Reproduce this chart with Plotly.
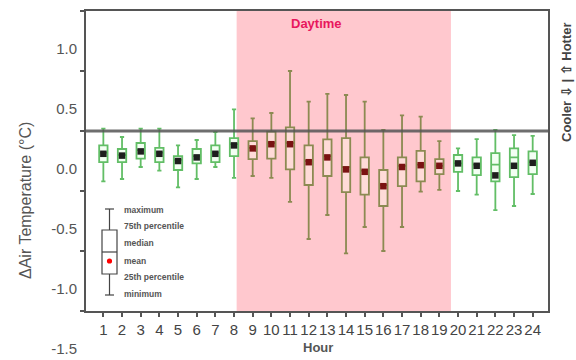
import plotly.graph_objects as go

hours = list(range(1, 25))
upper = [0.02, -0.05, 0.02, 0.02, -0.12, -0.075, -0.01, 0.18, 0.105, 0.15, 0.50, 0.245,
         0.31, 0.30, 0.245, 0.01, 0.13, 0.12, -0.085, -0.145, -0.067, 0.01, -0.035, -0.04]
q3 = [-0.12, -0.15, -0.10, -0.14, -0.21, -0.15, -0.12, -0.06, -0.085, -0.005, 0.03, -0.12,
      -0.07, -0.06, -0.22, -0.325, -0.22, -0.165, -0.235, -0.20, -0.22, -0.185, -0.145, -0.17]
median = [-0.18, -0.20, -0.16, -0.18, -0.24, -0.21, -0.18, -0.11, -0.14, -0.10, -0.10, -0.25,
          -0.21, -0.30, -0.33, -0.45, -0.29, -0.28, -0.29, -0.27, -0.28, -0.28, -0.22, -0.26]
mean = [-0.19, -0.205, -0.17, -0.19, -0.25, -0.22, -0.19, -0.12, -0.145, -0.11, -0.11, -0.26,
        -0.22, -0.32, -0.34, -0.46, -0.30, -0.285, -0.29, -0.27, -0.29, -0.37, -0.29, -0.265]
q1 = [-0.26, -0.26, -0.23, -0.26, -0.325, -0.27, -0.26, -0.21, -0.235, -0.23, -0.32, -0.45,
      -0.375, -0.51, -0.53, -0.625, -0.46, -0.42, -0.36, -0.34, -0.367, -0.42, -0.385, -0.36]
lower = [-0.42, -0.40, -0.30, -0.33, -0.47, -0.40, -0.30, -0.39, -0.375, -0.39, -0.59, -0.90,
         -0.70, -1.02, -0.80, -1.00, -0.80, -0.505, -0.49, -0.50, -0.53, -0.66, -0.625, -0.525]
day_hours = list(range(9, 20))
daytime_span = [8.14, 19.62]
y_ticks = [1.0, 0.5, 0.0, -0.5, -1.0, -1.5]
legend_labels = ["maximum", "75th percentile", "median", "mean", "25th percentile", "minimum"]

FONT = "Liberation Sans, Arial, sans-serif"
GRAY = "#555555"

def pick(arr, idx):
    return [arr[i] for i in idx]

night_idx = [i for i, h in enumerate(hours) if h not in day_hours]
day_idx = [i for i, h in enumerate(hours) if h in day_hours]

fig = go.Figure()

groups = [
    (night_idx, "rgb(98,190,102)", "rgba(240,255,240,0.8)", "#1e1e1e"),
    (day_idx, "rgb(140,138,82)", "rgba(255,255,235,0.35)", "#7a1212"),
]
for idx, lc, fc, mc in groups:
    fig.add_trace(go.Box(
        x=pick(hours, idx), q1=pick(q1, idx), median=pick(median, idx), q3=pick(q3, idx),
        lowerfence=pick(lower, idx), upperfence=pick(upper, idx),
        boxpoints=False, width=0.45, whiskerwidth=0.5,
        line=dict(color=lc, width=1.8), fillcolor=fc, showlegend=False, hoverinfo="skip"))
for idx, lc, fc, mc in groups:
    fig.add_trace(go.Scatter(
        x=pick(hours, idx), y=pick(mean, idx), mode="markers",
        marker=dict(symbol="square", size=6.5, color=mc), showlegend=False, hoverinfo="skip"))

shapes = [
    dict(type="rect", xref="x", yref="paper", x0=daytime_span[0], x1=daytime_span[1], y0=0, y1=1,
         fillcolor="rgb(255,200,206)", line=dict(width=0), layer="below"),
    dict(type="line", xref="paper", yref="y", x0=0, x1=1, y0=0, y1=0,
         line=dict(color="rgba(85,85,85,0.85)", width=3), layer="above"),
]

# legend glyph (paper coordinates from pixel positions)
def px(xp):
    return (xp - 86) / 462.0

def py(yp):
    return (311 - yp) / 300.0

lg = dict(color="#444444", width=1.2)
cx = 109.5
shapes += [
    dict(type="line", xref="paper", yref="paper", x0=px(105), x1=px(114), y0=py(209), y1=py(209), line=lg),
    dict(type="line", xref="paper", yref="paper", x0=px(cx), x1=px(cx), y0=py(209), y1=py(230), line=lg),
    dict(type="rect", xref="paper", yref="paper", x0=px(102), x1=px(117), y0=py(274), y1=py(230),
         line=lg, fillcolor="white"),
    dict(type="line", xref="paper", yref="paper", x0=px(102), x1=px(117), y0=py(252), y1=py(252), line=lg),
    dict(type="line", xref="paper", yref="paper", x0=px(cx), x1=px(cx), y0=py(274), y1=py(295), line=lg),
    dict(type="line", xref="paper", yref="paper", x0=px(105), x1=px(114), y0=py(295), y1=py(295), line=lg),
    dict(type="circle", xref="paper", yref="paper", x0=px(cx - 2.6), x1=px(cx + 2.6),
         y0=py(261 + 2.6), y1=py(261 - 2.6), fillcolor="red", line=dict(width=0)),
]

annotations = []
for lab, yp in zip(legend_labels, [210, 226, 243, 261, 277, 294]):
    annotations.append(dict(text=lab, xref="paper", yref="paper", x=px(122), y=py(yp),
                            xanchor="left", yanchor="middle", showarrow=False,
                            font=dict(family=FONT, size=8.5, color=GRAY, weight="bold")))
annotations += [
    dict(text="Daytime", xref="paper", yref="paper", x=px(316), y=py(23), showarrow=False,
         xanchor="center", yanchor="middle",
         font=dict(family=FONT, size=13, color="#E8175D", weight="bold")),
    dict(text="Hour", xref="paper", yref="paper", x=px(318), y=py(347), showarrow=False,
         xanchor="center", yanchor="middle",
         font=dict(family=FONT, size=13, color=GRAY, weight="bold")),
    dict(text="ΔAir Temperature (°C)", xref="paper", yref="paper", x=px(25), y=py(201),
         showarrow=False, textangle=-90, xanchor="center", yanchor="middle",
         font=dict(family=FONT, size=16, color=GRAY)),
    dict(text="Cooler ⇩ | ⇧ Hotter", xref="paper", yref="paper", x=px(566), y=py(82),
         showarrow=False, textangle=-90, xanchor="center", yanchor="middle",
         font=dict(family=FONT, size=13, color="#444444", weight="bold")),
]

fig.update_layout(
    width=576, height=360, margin=dict(l=86, r=28, t=11, b=49, autoexpand=False),
    paper_bgcolor="white", plot_bgcolor="white", boxmode="overlay",
    shapes=shapes, annotations=annotations, font=dict(family=FONT, color=GRAY),
)
fig.update_xaxes(range=[0.07, 24.82], tickvals=hours, ticktext=[str(h) for h in hours],
                 tickangle=0, ticks="outside", ticklen=4, tickwidth=1.5, tickcolor=GRAY,
                 automargin=False,
                 showline=True, linecolor=GRAY, linewidth=2, mirror=True, showgrid=False,
                 zeroline=False, tickfont=dict(family=FONT, size=15, color="#444444"))
fig.update_yaxes(range=[-1.5, 1.0], tickvals=y_ticks, ticktext=[f"{v:.1f}" for v in y_ticks],
                 ticks="outside", ticklen=4, tickwidth=1.5, tickcolor=GRAY, ticklabelshift=38,
                 automargin=False,
                 showline=True, linecolor=GRAY, linewidth=2, mirror=True, showgrid=False,
                 zeroline=False, tickfont=dict(family=FONT, size=15, color=GRAY))

fig.write_html("out.html")
